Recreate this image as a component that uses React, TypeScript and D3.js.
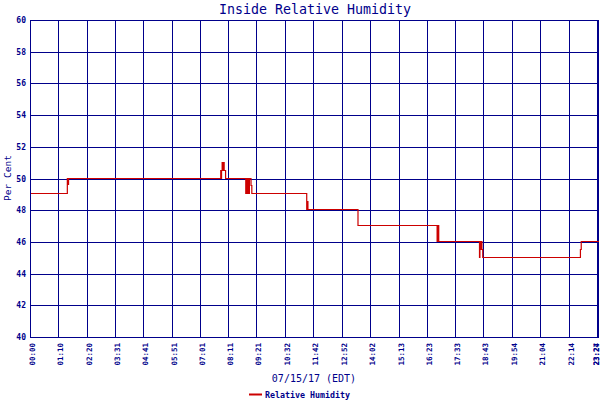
import React, { useEffect, useRef } from 'react';
import * as d3 from 'd3';

// x tick labels (time of day), positions follow from the label itself
const tickLabels = [
  '00:00', '01:10', '02:20', '03:31', '04:41', '05:51', '07:01', '08:11',
  '09:21', '10:32', '11:42', '12:52', '14:02', '15:13', '16:23', '17:33',
  '18:43', '19:54', '21:04', '22:14', '23:24', '23:27',
];
const yTicks = [40, 42, 44, 46, 48, 50, 52, 54, 56, 58, 60];

// sample time (minutes after midnight) and relative humidity (%), step data
const sampleMinutes = [
  0, 90, 90.7, 91.5, 92.2, 93,
  470, 471, 472, 473.5, 474.5, 477.5, 478.5, 482,
  532, 534, 535, 537, 538, 541, 545, 547,
  683, 684, 686,
  810,
  1006, 1007, 1008, 1009, 1010,
  1111, 1112, 1113, 1114, 1115, 1116, 1117, 1119,
  1361, 1363,
  1407,
];
const humidity = [
  49, 50, 49.6, 50, 49.6, 50,
  50.5, 50, 50.5, 51, 50.5, 51, 50.5, 50,
  49, 50, 49, 50, 49, 50, 49.5, 49,
  48, 48.5, 48,
  47,
  46, 47, 46, 47, 46,
  45, 46, 45.5, 46, 45.5, 46, 45.5, 45,
  45.5, 46,
  46,
];

const W = 600;
const H = 400;
const NAVY = '#00008b';
const RED = '#cc0000';
const FONT = '"DejaVu Sans Mono", monospace';

const toMinutes = (s: string) => {
  const [h, m] = s.split(':').map(Number);
  return h * 60 + m;
};

const Chart: React.FC = () => {
  const svgRef = useRef<SVGSVGElement>(null);

  useEffect(() => {
    if (!svgRef.current) return;
    const svg = d3.select(svgRef.current);
    svg.selectAll('*').remove();

    const left = 31;
    const right = 599;
    const top = 20;
    const bottom = 337;

    const x = d3.scaleLinear().domain([0, d3.max(sampleMinutes) as number]).range([left, right]);
    const y = d3.scaleLinear().domain([40, 60]).range([bottom, top]);

    svg.append('rect').attr('width', W).attr('height', H).attr('fill', '#fff');

    // horizontal grid
    svg.append('g')
      .selectAll('line')
      .data(yTicks)
      .enter()
      .append('line')
      .attr('x1', left)
      .attr('x2', right)
      .attr('y1', d => Math.round(y(d)) + 0.5)
      .attr('y2', d => Math.round(y(d)) + 0.5)
      .attr('stroke', NAVY)
      .attr('stroke-width', 1);

    // vertical grid
    const tickMins = tickLabels.map(toMinutes);
    svg.append('g')
      .selectAll('line')
      .data(tickMins)
      .enter()
      .append('line')
      .attr('x1', d => Math.round(x(d)) - 0.5)
      .attr('x2', d => Math.round(x(d)) - 0.5)
      .attr('y1', top)
      .attr('y2', bottom + 1)
      .attr('stroke', NAVY)
      .attr('stroke-width', 1);

    // y tick labels
    svg.append('g')
      .selectAll('text')
      .data(yTicks)
      .enter()
      .append('text')
      .attr('x', left - 5)
      .attr('y', d => y(d) + 3)
      .attr('text-anchor', 'end')
      .style('font-family', FONT)
      .style('font-size', '8px')
      .style('font-weight', 'bold')
      .style('fill', NAVY)
      .text(d => d);

    // x tick labels, rotated (the last two crowd the right edge, as in the original)
    svg.append('g')
      .selectAll('text')
      .data(tickLabels)
      .enter()
      .append('text')
      .attr('transform', d => {
        const bx = Math.min(x(toMinutes(d)) + 4, W - 1);
        return `translate(${bx},${bottom + 6}) rotate(-90)`;
      })
      .attr('text-anchor', 'end')
      .style('font-family', FONT)
      .style('font-size', '7.5px')
      .style('font-weight', 'bold')
      .style('fill', NAVY)
      .text(d => d);

    // humidity step line
    const pts: [number, number][] = sampleMinutes.map((m, i) => [m, humidity[i]]);
    const line = d3.line<[number, number]>()
      .x(d => x(d[0]))
      .y(d => Math.round(y(d[1])) - 0.5)
      .curve(d3.curveStepAfter);
    svg.append('path')
      .datum(pts)
      .attr('d', line)
      .attr('fill', 'none')
      .attr('stroke', RED)
      .attr('stroke-width', 1.2);

    // title
    svg.append('text')
      .attr('x', 315)
      .attr('y', 14)
      .attr('text-anchor', 'middle')
      .style('font-family', FONT)
      .style('font-size', '13.3px')
      .style('fill', NAVY)
      .text('Inside Relative Humidity');

    // axis titles
    svg.append('text')
      .attr('transform', `translate(11,178) rotate(-90)`)
      .attr('text-anchor', 'middle')
      .style('font-family', FONT)
      .style('font-size', '9.5px')
      .style('fill', NAVY)
      .text('Per Cent');

    svg.append('text')
      .attr('x', 314)
      .attr('y', 382)
      .attr('text-anchor', 'middle')
      .style('font-family', FONT)
      .style('font-size', '10px')
      .style('fill', NAVY)
      .text('07/15/17 (EDT)');

    // legend
    svg.append('line')
      .attr('x1', 249)
      .attr('x2', 262)
      .attr('y1', 394.5)
      .attr('y2', 394.5)
      .attr('stroke', RED)
      .attr('stroke-width', 2);
    svg.append('text')
      .attr('x', 265)
      .attr('y', 398)
      .style('font-family', FONT)
      .style('font-size', '8.3px')
      .style('font-weight', 'bold')
      .style('fill', NAVY)
      .text('Relative Humidity');
  }, []);

  return <svg ref={svgRef} width={W} height={H} style={{ display: 'block' }}></svg>;
};

export default function App() {
  return (
    <div style={{ position: 'absolute', left: 0, top: 0 }}>
      <Chart />
    </div>
  );
}
